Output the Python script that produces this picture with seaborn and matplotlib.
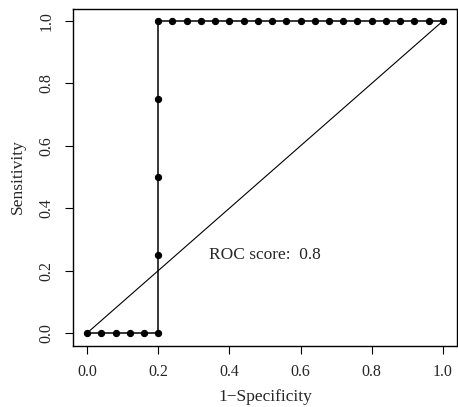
import matplotlib
matplotlib.use("Agg")
import matplotlib.pyplot as plt
import seaborn as sns
import pandas as pd

fpr = [0.0, 0.04, 0.08, 0.12, 0.16, 0.2, 0.2, 0.2, 0.2, 0.2,
       0.24, 0.28, 0.32, 0.36, 0.40, 0.44, 0.48, 0.52, 0.56, 0.60,
       0.64, 0.68, 0.72, 0.76, 0.80, 0.84, 0.88, 0.92, 0.96, 1.0]
tpr = [0.0, 0.0, 0.0, 0.0, 0.0, 0.0, 0.25, 0.5, 0.75, 1.0,
       1.0, 1.0, 1.0, 1.0, 1.0, 1.0, 1.0, 1.0, 1.0, 1.0,
       1.0, 1.0, 1.0, 1.0, 1.0, 1.0, 1.0, 1.0, 1.0, 1.0]
diag_x = [0.0, 1.0]
diag_y = [0.0, 1.0]
ticks = [0.0, 0.2, 0.4, 0.6, 0.8, 1.0]
tick_labels = ["0.0", "0.2", "0.4", "0.6", "0.8", "1.0"]
score_text = "ROC score:  0.8"

sns.set_theme(style="white")
plt.rcParams['font.family'] = ['Liberation Serif', 'DejaVu Serif']

fig = plt.figure(figsize=(4.58, 4.07), dpi=100)
ax = fig.add_axes([0.159, 0.151, 0.839, 0.828])

df = pd.DataFrame({"x": fpr, "y": tpr})
sns.lineplot(data=df, x="x", y="y", sort=False, estimator=None, ax=ax,
             color="black", linewidth=1.1, marker="o", markersize=4.5,
             markeredgecolor="black", markerfacecolor="black")
sns.lineplot(x=diag_x, y=diag_y, ax=ax, color="black", linewidth=0.8)

ax.text(0.5, 0.25, score_text, ha="center", va="center", fontsize=12.5)

ax.set_xlim(-0.04, 1.04)
ax.set_ylim(-0.04, 1.04)
ax.set_xticks(ticks)
ax.set_xticklabels(tick_labels, fontsize=11.5)
ax.set_yticks(ticks)
ax.set_yticklabels(tick_labels, fontsize=11.5, rotation=90, va="center")
ax.tick_params(axis="both", direction="out", length=6, width=0.8,
               color="black", bottom=True, left=True, pad=7)
ax.set_xlabel("1\u2212Specificity", fontsize=12.5, labelpad=7)
ax.set_ylabel("Sensitivity", fontsize=12.5, labelpad=9)
for s in ax.spines.values():
    s.set_color("black")
    s.set_linewidth(1.0)

fig.savefig("out.png", dpi=100)
